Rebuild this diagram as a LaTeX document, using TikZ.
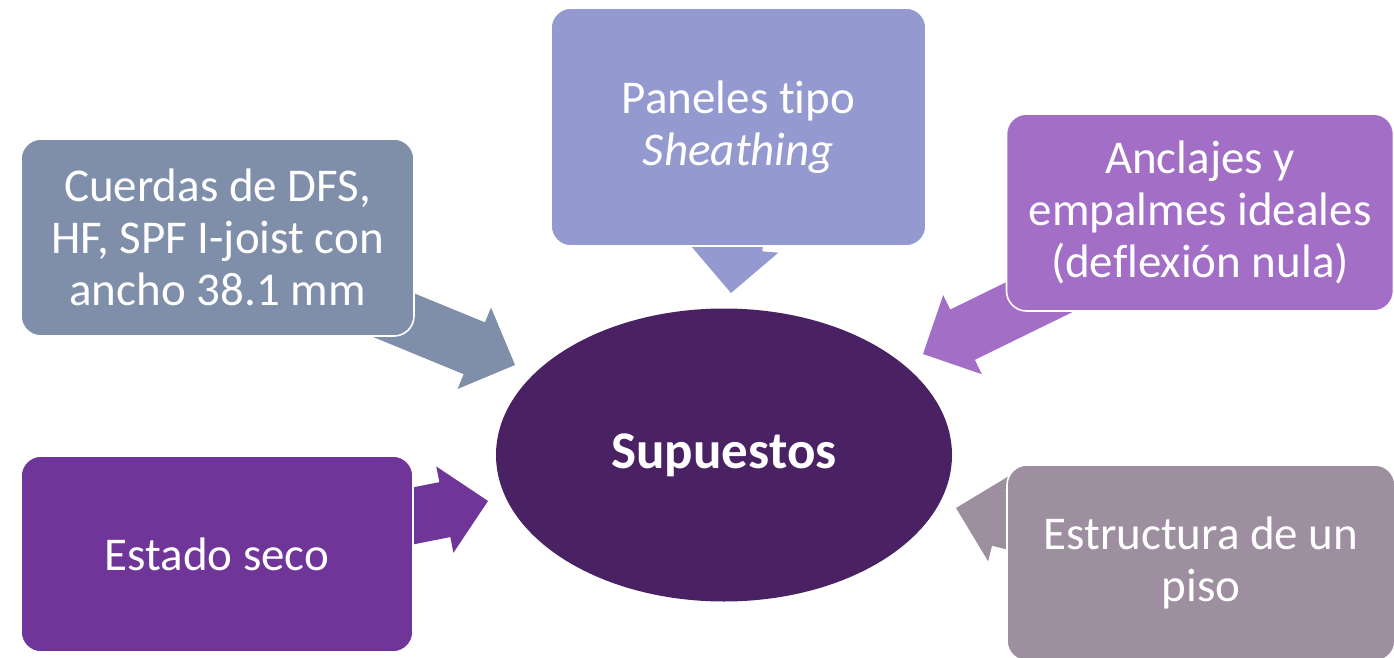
\documentclass[tikz,border=0pt]{standalone}
\usepackage{fontspec}
\setmainfont{Carlito}[Ligatures={NoCommon}]
\usetikzlibrary{calc,shapes.geometric}

\definecolor{centrefill}{HTML}{4A2263}
\definecolor{panelfill}{HTML}{9499CF}
\definecolor{cordfill}{HTML}{7F8FA9}
\definecolor{anclfill}{HTML}{A36FC6}
\definecolor{secofill}{HTML}{703599}
\definecolor{pisofill}{HTML}{9E8FA0}

% block arrow from tail #1 to tip #2, filled with #3
\newcommand\blockarrow[3]{%
  \fill[#3]
    ($(#1)!28pt!90:(#2)$) --
    ($($(#2)!44pt!(#1)$)!28pt!90:(#2)$) --
    ($($(#2)!44pt!(#1)$)!44pt!90:(#2)$) --
    (#2) --
    ($($(#2)!44pt!(#1)$)!44pt!-90:(#2)$) --
    ($($(#2)!44pt!(#1)$)!28pt!-90:(#2)$) --
    ($(#1)!28pt!-90:(#2)$) -- cycle;}

\tikzset{
  infobox/.style={rectangle, rounded corners=20pt, draw=white, line width=1.6pt,
    text=white, align=center, inner sep=0pt,
    font=\fontsize{47}{52}\selectfont},
}

\begin{document}
\begin{tikzpicture}[x=1pt,y=-1pt]
\useasboundingbox (0,0) rectangle (1394,658);
\clip (0,0) rectangle (1394,658);

% arrow ends
\coordinate (tCord) at (330,289);  \coordinate (hCord) at (515,365);
\coordinate (tAncl) at (1103,266); \coordinate (hAncl) at (923,354);
\coordinate (tSeco) at (292,540);  \coordinate (hSeco) at (488,501);
\coordinate (tPiso) at (1150,556); \coordinate (hPiso) at (956,508);
\coordinate (tPan)  at (747,93);   \coordinate (hPan)  at (731,293);

\blockarrow{tCord}{hCord}{cordfill}
\blockarrow{tAncl}{hAncl}{anclfill}
\blockarrow{tSeco}{hSeco}{secofill}
\blockarrow{tPiso}{hPiso}{pisofill}
\blockarrow{tPan}{hPan}{panelfill}

% surrounding boxes
\node[infobox, fill=panelfill, minimum width=375pt, minimum height=238pt]
  (pan) at (738.5,127) {Paneles tipo\\\textit{Sheathing}};
\node[infobox, fill=cordfill, minimum width=393pt, minimum height=197pt]
  (cord) at (217.5,237.5) {Cuerdas de DFS,\\HF, SPF I-joist con\\ancho 38.1 mm};
\node[infobox, fill=anclfill, minimum width=387pt, minimum height=197pt]
  (ancl) at (1200,212.5) {Anclajes y\\empalmes ideales\\(deflexión nula)};
\node[infobox, fill=secofill, minimum width=392pt, minimum height=196pt]
  (seco) at (217,554) {Estado seco};
\node[infobox, fill=pisofill, minimum width=388pt, minimum height=196pt]
  (piso) at (1201,563) {Estructura de un\\piso};

% central ellipse
\node[ellipse, fill=centrefill, minimum width=456pt, minimum height=293pt,
  inner sep=0pt, text=white, font=\fontsize{53}{60}\selectfont\bfseries]
  (sup) at (724,455) {Supuestos};
\end{tikzpicture}
\end{document}
